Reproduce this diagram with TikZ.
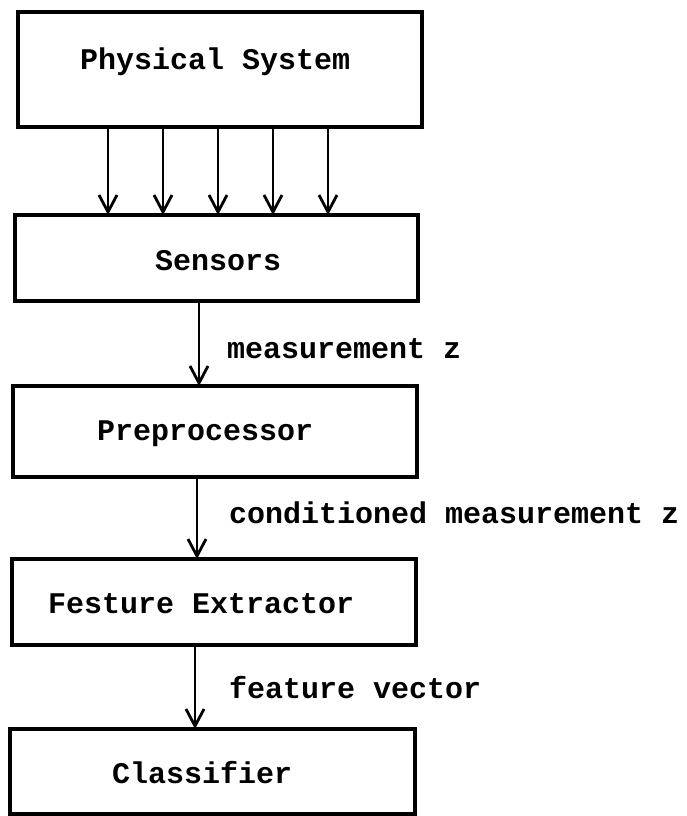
\documentclass[tikz,border=0pt]{standalone}
\usepackage{fontspec}
\setmonofont{Liberation Mono}
\usetikzlibrary{arrows.meta}
\begin{document}
\begin{tikzpicture}[x=1pt,y=-1pt,
  block/.style={draw, line width=4pt, inner sep=0pt, outer sep=0pt},
  lbl/.style={anchor=base west, inner sep=0pt, font=\ttfamily\bfseries\fontsize{30}{36}\selectfont},
  flow/.style={line width=2.8pt, -{Straight Barb[length=17pt,width=18pt]}}]
  \useasboundingbox (0,0) rectangle (686,816);

  % blocks (centre, width, height in px-like units)
  \node[block, minimum width=404pt, minimum height=115pt] (phys) at (220,69.5) {};
  \node[block, minimum width=403pt, minimum height=86pt]  (sens) at (216.5,258) {};
  \node[block, minimum width=404pt, minimum height=91pt]  (prep) at (215,431.5) {};
  \node[block, minimum width=404pt, minimum height=86pt]  (feat) at (214,602) {};
  \node[block, minimum width=405pt, minimum height=85pt]  (clas) at (212.5,771.5) {};

  % block captions
  \node[lbl] (tphys) at (80,70)   {Physical System};
  \node[lbl] (tsens) at (155,270) {Sensors};
  \node[lbl] (tprep) at (97,440)  {Preprocessor};
  \node[lbl] (tfeat) at (48,613)  {Festure Extractor};
  \node[lbl] (tclas) at (112,783) {Classifier};

  % parallel sensor channels
  \foreach \x in {108,163,218,273,328}
    \draw[flow] (phys.south -| \x,0) -- (sens.north -| \x,0);

  % signal chain
  \draw[flow] (sens.south -| 199,0) -- (prep.north -| 199,0);
  \draw[flow] (prep.south -| 197,0) -- (feat.north -| 197,0);
  \draw[flow] (feat.south -| 195,0) -- (clas.north -| 195,0);

  % connector labels
  \node[lbl] (lz)  at (227,358) {measurement z};
  \node[lbl] (lcz) at (229,523) {conditioned measurement z};
  \node[lbl] (lfv) at (229,698) {feature vector};
\end{tikzpicture}
\end{document}
